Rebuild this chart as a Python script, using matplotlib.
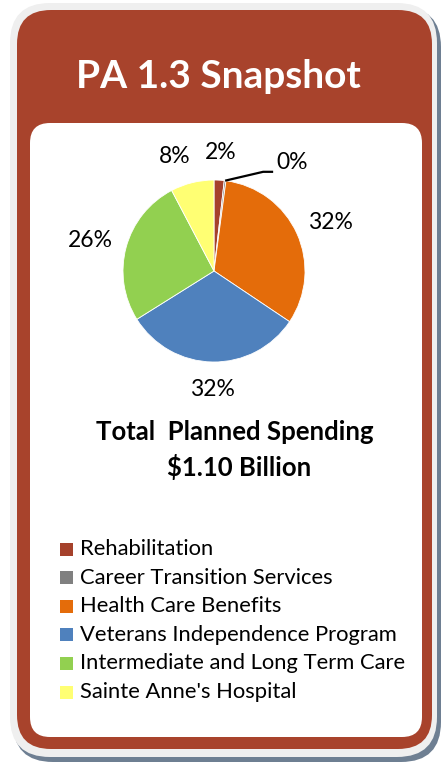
import matplotlib
matplotlib.use("Agg")
import matplotlib.pyplot as plt
from matplotlib.patches import FancyBboxPatch
import numpy as np

# Spending shares (% of total planned spending)
categories = ["Rehabilitation", "Career Transition Services", "Health Care Benefits",
              "Veterans Independence Program", "Intermediate and Long Term Care",
              "Sainte Anne's Hospital"]
shares = [1.8, 0.3, 32.3, 31.7, 26.2, 7.7]
colors = ["#A5412B", "#808080", "#E46C0A", "#4F81BD", "#92D050", "#FFFF73"]
title = "PA 1.3 Snapshot"
total_lines = ["Total  Planned Spending", "$1.10 Billion"]

W, H = 442, 763
DPI = 100
FONT = "Lato"
RED = "#A8432C"

fig = plt.figure(figsize=(W / DPI, H / DPI), dpi=DPI)
fig.patch.set_facecolor("white")

# Background canvas in pixel coordinates (y downward)
bg = fig.add_axes([0, 0, 1, 1])
bg.set_xlim(0, W)
bg.set_ylim(H, 0)
bg.axis("off")


def rbox(x0, y0, x1, y1, r, color, z, **kw):
    p = FancyBboxPatch((x0 + r, y0 + r), (x1 - x0) - 2 * r, (y1 - y0) - 2 * r,
                       boxstyle=f"round,pad={r}", fc=color, ec="none", zorder=z, **kw)
    bg.add_patch(p)


# drop shadow, outer frame, red card, white panel
rbox(13, 7, 441, 762, 40, "#6E7F92", 1)
rbox(10, 3, 437, 757, 40, "#EFEFEF", 2)
rbox(17, 10, 432, 749, 34, RED, 3)
rbox(30, 123, 422, 737, 20, "white", 4)

bg.text(218, 76, title, color="white", fontsize=28, fontweight="bold",
        family=FONT, ha="center", va="center", zorder=5)

bg.text(235, 432, total_lines[0], fontsize=18.5, fontweight="bold",
        family=FONT, ha="center", va="center", zorder=5)
bg.text(239, 467, total_lines[1], fontsize=18.5, fontweight="bold",
        family=FONT, ha="center", va="center", zorder=5)

# Legend
leg_y0, leg_dy = 549, 28.6
for i, (name, col) in enumerate(zip(categories, colors)):
    y = leg_y0 + i * leg_dy
    bg.add_patch(plt.Rectangle((60, y - 6.5), 13, 13, fc=col, ec="none", zorder=5))
    bg.text(80, y, name, fontsize=15.8, family=FONT, ha="left", va="center", zorder=5)

# Pie chart
cx, cy, r = 214, 271, 91
pad = 1.6
ax = fig.add_axes([(cx - r * pad) / W, (H - cy - r * pad) / H,
                   2 * r * pad / W, 2 * r * pad / H])
ax.set_zorder(6)

wedges, _ = ax.pie(shares, colors=colors, startangle=90, counterclock=False,
                   radius=1, wedgeprops=dict(linewidth=0.6, edgecolor="white"))
ax.set_xlim(-pad, pad)
ax.set_ylim(-pad, pad)
ax.set_aspect("equal")
ax.axis("off")

fracs = np.array(shares) / sum(shares)
starts = np.concatenate([[0], np.cumsum(fracs)[:-1]])
mids = starts + fracs / 2
LBL = 16.5
for i, (m, v) in enumerate(zip(mids, shares)):
    ang = 2 * np.pi * m
    lbl = f"{v:.0f}%"
    if i == 1:
        # tiny slice: label pulled out with a leader line
        sx, sy = np.sin(ang), np.cos(ang)
        ax.plot([sx, 0.54, 0.65], [sy, 1.09, 1.09], color="black", lw=1.6,
                solid_capstyle="butt")
        ax.text(0.68, 1.08, lbl, fontsize=LBL, family=FONT, ha="left", va="bottom")
        continue
    d = 1.3
    x, y = d * np.sin(ang), d * np.cos(ang)
    if i == 2:
        x += 0.1
    if i == 4:
        x -= 0.1
    if i == 5:
        x -= 0.12
    ax.text(x, y, lbl, fontsize=LBL, family=FONT, ha="center", va="center")

fig.savefig("out.png", dpi=DPI)
